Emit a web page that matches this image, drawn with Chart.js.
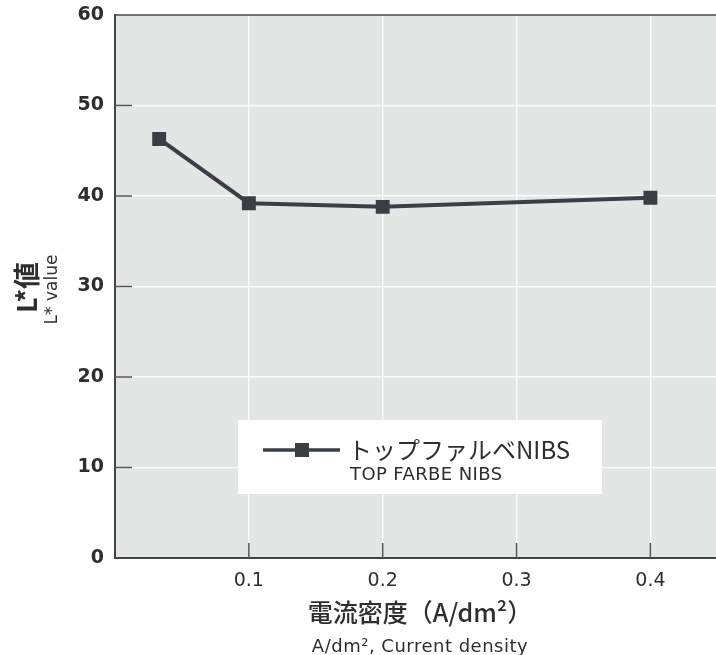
<!DOCTYPE html>
<html>
<head>
<meta charset="utf-8">
<script src="https://cdn.jsdelivr.net/npm/chart.js@4.4.0/dist/chart.umd.min.js"></script>
<style>
html,body{margin:0;padding:0;background:#fff;overflow:hidden;}
#wrap{width:716px;height:655px;}
canvas{display:block;}
</style>
</head>
<body>
<div id="wrap"><canvas id="c" width="716" height="655"></canvas></div>
<script>
// Data
const currentDensity = [0.033, 0.1, 0.2, 0.4];
const lValues = [46.3, 39.2, 38.8, 39.8];
const seriesLabelJa = 'トップファルベNIBS';
const seriesLabelEn = 'TOP FARBE NIBS';
const xTitleJa = '電流密度（A/dm²）';
const xTitleEn = 'A/dm², Current density';
const yTitleJa = 'L*値';
const yTitleEn = 'L* value';
const xTickValues = [0.1, 0.2, 0.3, 0.4];

const TEXT = '#2e2e2e';
const MARK = '#3a3f46';
const JP = '"Noto Sans CJK JP", "Noto Sans", sans-serif';
const LAT = '"DejaVu Sans", "Liberation Sans", sans-serif';

const decor = {
  id: 'decor',
  afterLayout(chart) {
    // plot area reaches the right edge of the canvas, as in the reference
    const a = chart.chartArea;
    const x = chart.scales.x;
    const R = chart.width;
    a.right = R;
    a.width = R - a.left;
    x.right = R;
    x.width = R - x.left;
    x.configure();
  },
  beforeDraw(chart) {
    const {ctx, chartArea: a} = chart;
    ctx.save();
    ctx.fillStyle = '#e4e6e6';
    ctx.fillRect(a.left, a.top, a.right - a.left, a.bottom - a.top);
    ctx.restore();
  },
  afterDatasetsDraw(chart) {
    const {ctx, chartArea: a, scales} = chart;
    ctx.save();
    // top border
    ctx.strokeStyle = '#444';
    ctx.lineWidth = 1.5;
    ctx.beginPath();
    ctx.moveTo(a.left, a.top);
    ctx.lineTo(a.right, a.top);
    ctx.stroke();
    // inward ticks
    ctx.strokeStyle = '#555';
    ctx.lineWidth = 1.5;
    scales.y.ticks.forEach(t => {
      if (t.value <= 0 || t.value >= 60) return;
      const y = scales.y.getPixelForValue(t.value);
      ctx.beginPath(); ctx.moveTo(a.left, y); ctx.lineTo(a.left + 17, y); ctx.stroke();
    });
    scales.x.ticks.forEach(t => {
      const x = scales.x.getPixelForValue(t.value);
      ctx.beginPath(); ctx.moveTo(x, a.bottom); ctx.lineTo(x, a.bottom - 15); ctx.stroke();
    });
    // legend box
    const bx = 238, by = 420, bw = 364, bh = 74;
    ctx.fillStyle = '#ffffff';
    ctx.fillRect(bx, by, bw, bh);
    const ly = 450;
    ctx.strokeStyle = MARK;
    ctx.lineWidth = 3.5;
    ctx.beginPath(); ctx.moveTo(263, ly); ctx.lineTo(340, ly); ctx.stroke();
    ctx.fillStyle = MARK;
    ctx.fillRect(295, ly - 7, 14, 14);
    ctx.fillStyle = TEXT;
    ctx.textBaseline = 'middle';
    ctx.textAlign = 'left';
    ctx.font = '400 24px ' + JP;
    ctx.fillText(seriesLabelJa, 348, ly);
    ctx.font = '18px ' + LAT;
    ctx.letterSpacing = '0.4px';
    ctx.fillText(seriesLabelEn, 350, 475);
    ctx.restore();
  },
  afterDraw(chart) {
    const {ctx, chartArea: a} = chart;
    ctx.save();
    ctx.fillStyle = TEXT;
    ctx.textAlign = 'center';
    ctx.textBaseline = 'middle';
    const cx = 420;
    ctx.font = '500 25px ' + JP;
    ctx.fillText(xTitleJa, cx, 612);
    ctx.font = '18px ' + LAT;
    ctx.letterSpacing = '0.5px';
    ctx.fillText(xTitleEn, cx, 647);
    ctx.letterSpacing = '0px';
    const cy = (a.top + a.bottom) / 2 + 1;
    ctx.translate(27, cy);
    ctx.rotate(-Math.PI / 2);
    ctx.font = 'bold 27px ' + JP;
    ctx.fillText(yTitleJa, 0, 0);
    ctx.restore();
    ctx.save();
    ctx.fillStyle = TEXT;
    ctx.textAlign = 'center';
    ctx.textBaseline = 'middle';
    ctx.translate(53, cy + 2);
    ctx.rotate(-Math.PI / 2);
    ctx.font = '17px ' + LAT;
    ctx.fillText(yTitleEn, 0, 0);
    ctx.restore();
  }
};

new Chart(document.getElementById('c'), {
  type: 'scatter',
  data: {
    datasets: [{
      label: seriesLabelJa,
      data: currentDensity.map((x, i) => ({x: x, y: lValues[i]})),
      showLine: true,
      borderColor: MARK,
      backgroundColor: MARK,
      borderWidth: 4,
      pointStyle: 'rect',
      pointRadius: 7,
      pointHoverRadius: 7,
      tension: 0
    }]
  },
  options: {
    responsive: false,
    animation: false,
    devicePixelRatio: 1,
    layout: {padding: {top: 15, right: 0, left: 0, bottom: 0}},
    plugins: {legend: {display: false}, tooltip: {enabled: false}},
    scales: {
      x: {
        type: 'linear',
        min: 0,
        max: 0.449,
        afterBuildTicks: s => { s.ticks = xTickValues.map(v => ({value: v})); },
        afterFit: s => { s.height = 97; },
        ticks: {
          color: TEXT,
          font: {family: LAT, size: 19},
          padding: 12,
          callback: v => v.toFixed(1)
        },
        grid: {color: 'rgba(255,255,255,0.85)', lineWidth: 1.5, drawTicks: false},
        border: {color: '#444', width: 2}
      },
      y: {
        min: 0,
        max: 60,
        afterFit: s => { s.width = 115; s.paddingTop = 0; s.paddingBottom = 0; },
        ticks: {
          stepSize: 10,
          color: TEXT,
          font: {family: LAT, size: 19, weight: 'bold'},
          padding: 11
        },
        grid: {color: 'rgba(255,255,255,0.85)', lineWidth: 1.5, drawTicks: false},
        border: {color: '#444', width: 2}
      }
    }
  },
  plugins: [decor]
});
</script>
</body>
</html>
